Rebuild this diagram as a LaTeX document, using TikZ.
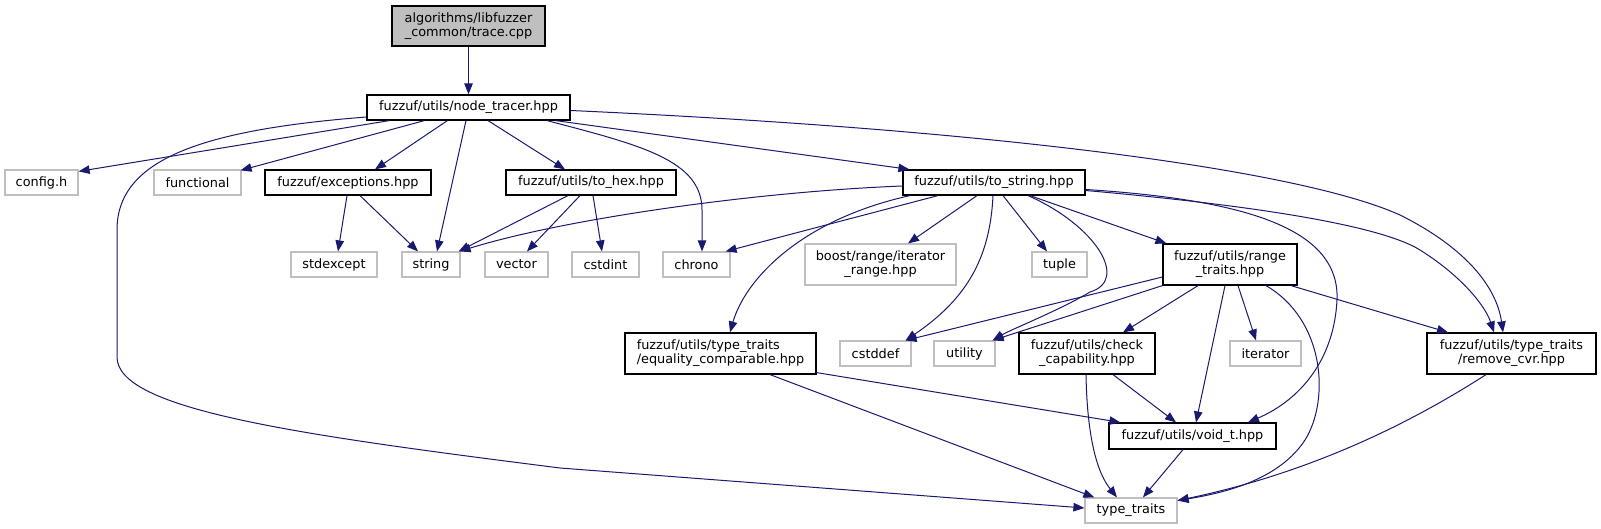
\documentclass[tikz,border=0pt]{standalone}
\usepackage{fontspec}
\setmainfont{DejaVu Sans}
\usetikzlibrary{arrows.meta}
\definecolor{edgecol}{HTML}{191970}
\definecolor{greyfill}{HTML}{BFBFBF}
\begin{document}
\begin{tikzpicture}[x=1pt,y=-1pt,
  box/.style={draw=black, line width=1.2pt, rectangle, inner sep=0pt, minimum height=25pt,
    font=\fontsize{12.85}{14}\selectfont, align=center},
  ext/.style={box, draw=greyfill},
  e/.style={draw=edgecol, line width=1pt, -{Triangle[length=11pt,width=8.5pt,fill=edgecol]}}]
\useasboundingbox (0,0) rectangle (1601,529);
% nodes
\node[box, fill=greyfill, minimum width=153pt, minimum height=40pt] (trace) at (468.5,26) {algorithms/libfuzzer\\\_common/trace.cpp};
\node[box, minimum width=203pt] (nt) at (468.5,107.5) {fuzzuf/utils/node\_tracer.hpp};
\node[ext, minimum width=73pt] (cfg) at (41.5,182.5) {config.h};
\node[ext, minimum width=87pt] (func) at (197.5,182.5) {functional};
\node[box, minimum width=166pt] (exc) at (348,182.5) {fuzzuf/exceptions.hpp};
\node[box, minimum width=170pt] (tohex) at (591,182.5) {fuzzuf/utils/to\_hex.hpp};
\node[box, minimum width=182pt] (ts) at (994,182.5) {fuzzuf/utils/to\_string.hpp};
\node[ext, minimum width=86pt] (stdx) at (334,264.5) {stdexcept};
\node[ext, minimum width=58pt] (str) at (431,264.5) {string};
\node[ext, minimum width=63pt] (vec) at (516.5,264.5) {vector};
\node[ext, minimum width=67pt] (cstdint) at (605.5,264.5) {cstdint};
\node[ext, minimum width=67pt] (chrono) at (696.5,264.5) {chrono};
\node[ext, minimum width=151pt, minimum height=41pt] (itr) at (880.5,264.5) {boost/range/iterator\\\_range.hpp};
\node[ext, minimum width=55pt] (tuple) at (1059.5,264.5) {tuple};
\node[box, minimum width=134pt, minimum height=41pt] (rt) at (1230,264.5) {fuzzuf/utils/range\\\_traits.hpp};
\node[box, minimum width=191pt, minimum height=41pt, align=left] (eq) at (720.5,353.5) {fuzzuf/utils/type\_traits\\/equality\_comparable.hpp};
\node[ext, minimum width=71pt] (cstddef) at (875.5,353.5) {cstddef};
\node[ext, minimum width=61pt] (util) at (964.5,353.5) {utility};
\node[box, minimum width=136pt, minimum height=41pt] (cc) at (1087,353.5) {fuzzuf/utils/check\\\_capability.hpp};
\node[ext, minimum width=71pt] (iter) at (1265.5,353.5) {iterator};
\node[box, minimum width=169pt, minimum height=41pt] (rcvr) at (1511.5,353.5) {fuzzuf/utils/type\_traits\\/remove\_cvr.hpp};
\node[box, minimum width=167pt, minimum height=26pt] (voidt) at (1192.5,436) {fuzzuf/utils/void\_t.hpp};
\node[ext, minimum width=92pt] (tt) at (1131,510.5) {type\_traits};
% edges
\draw[e] (trace.south) -- (nt.north);
\draw[e] ([xshift=23]nt.south west) -- ([yshift=-2]cfg.north east);
\draw[e] ([xshift=58]nt.south west) -- ([xshift=-1,yshift=-1]func.north east);
\draw[e] ([xshift=81]nt.south west) -- ([xshift=27]exc.north);
\draw[e] ([xshift=-2.5]nt.south) -- ([xshift=6]str.north);
\draw[e] ([xshift=19.5]nt.south) -- ([xshift=-26]tohex.north);
\draw[e] ([xshift=78.5]nt.south) .. controls (640,145) and (702,160) .. (702,210) -- ([xshift=5.5]chrono.north);
\draw[e] ([xshift=-15]nt.south east) -- ([xshift=7]ts.north west);
\draw[e] ([yshift=-3]nt.east) .. controls (1000,130) and (1300,170) .. (1400,215) .. controls (1470,250) and (1497,290) .. ([xshift=-8.5]rcvr.north);
\draw[e] ([yshift=-9.5]nt.west) .. controls (200,130) and (117,160) .. (117,230) -- (117,357) .. controls (117,410) and (300,435) .. (560,468) -- ([yshift=2.5]tt.west);
\draw[e] ([xshift=-1]exc.south) -- ([xshift=4]stdx.north);
\draw[e] ([xshift=12]exc.south) -- ([xshift=-13]str.north);
\draw[e] ([xshift=-23]tohex.south) -- ([xshift=-2]str.north east);
\draw[e] ([xshift=-11]tohex.south) -- ([xshift=10.5]vec.north);
\draw[e] ([xshift=2]tohex.south) -- ([xshift=-3.5]cstdint.north);
\draw[e] ([yshift=-3.5]ts.west) .. controls (750,192) and (560,220) .. ([xshift=-1]str.north east);
\draw[e] ([xshift=-56]ts.south) -- ([xshift=-5]chrono.north east);
\draw[e] ([xshift=-17]ts.south) -- ([xshift=27.5]itr.north);
\draw[e] ([xshift=-84]ts.south) .. controls (800,220) and (745,280) .. ([xshift=9.5]eq.north);
\draw[e] ([xshift=-1]ts.south) .. controls (990,260) and (965,300) .. ([xshift=-6]cstddef.north east);
\draw[e] ([xshift=9]ts.south) -- ([xshift=-12.5]tuple.north);
\draw[e] ([xshift=34]ts.south) .. controls (1095,225) and (1130,280) .. (1090,292) .. controls (1060,310) and (1010,330) .. ([xshift=-3]util.north east);
\draw[e] ([xshift=36]ts.south) -- ([xshift=4]rt.north west);
\draw[e] ([yshift=-7]ts.east) .. controls (1250,200) and (1340,230) .. (1337,300) .. controls (1334,360) and (1300,400) .. ([xshift=55.5]voidt.north);
\draw[e] ([yshift=-8]ts.east) .. controls (1250,205) and (1380,225) .. (1420,250) .. controls (1460,275) and (1485,305) .. ([xshift=-17.5]rcvr.north);
\draw[e] ([yshift=-12.5]rt.west) -- ([xshift=-6]cstddef.north east);
\draw[e] (rt.south west) -- ([xshift=-3]util.north east);
\draw[e] ([xshift=-32]rt.south) -- ([xshift=36]cc.north);
\draw[e] ([xshift=-5]rt.south) -- ([xshift=3.5]voidt.north);
\draw[e] ([xshift=8]rt.south) -- ([xshift=-9.5]iter.north);
\draw[e] ([xshift=36]rt.south) .. controls (1325,320) and (1330,400) .. (1305,440) .. controls (1280,478) and (1230,492) .. ([yshift=10]tt.east);
\draw[e] ([xshift=61]rt.south) -- ([xshift=-63.5]rcvr.north);
\draw[e] ([xshift=26]cc.south) -- ([xshift=-16.5]voidt.north);
\draw[e] ([xshift=-1]cc.south) .. controls (1087,430) and (1095,470) .. ([xshift=-14]tt.north);
\draw[e] ([yshift=2]eq.south east) -- ([xshift=12]voidt.north west);
\draw[e] ([xshift=49.5]eq.south) -- ([xshift=10]tt.north west);
\draw[e] ([xshift=-9.5]voidt.south) -- ([xshift=12]tt.north);
\draw[e] ([xshift=-25.5]rcvr.south) .. controls (1400,430) and (1300,475) .. ([yshift=10]tt.east);
\end{tikzpicture}
\end{document}
